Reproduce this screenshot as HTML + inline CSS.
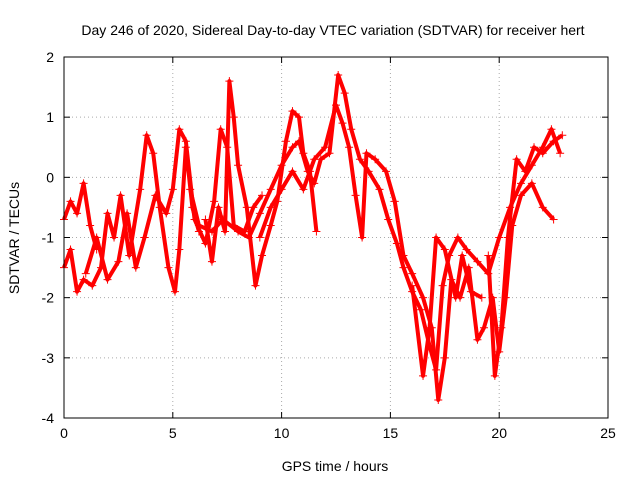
<!DOCTYPE html>
<html><head><meta charset="utf-8"><style>
body{margin:0;background:#fff}
svg text{font-family:"Liberation Sans",sans-serif;font-size:14px;fill:#000}
</style></head><body>
<svg id="chart" width="640" height="480">
<text x="333" y="35" text-anchor="middle">Day 246 of 2020, Sidereal Day-to-day VTEC variation (SDTVAR) for receiver hert</text>
<text transform="translate(19,238) rotate(-90)" text-anchor="middle">SDTVAR / TECUs</text>
<text x="335" y="471" text-anchor="middle">GPS time / hours</text>
<g id="grid"></g><g id="axes"></g><g id="marks"></g>
<rect x="64" y="57" width="544" height="361" fill="none" stroke="#000"/>
</svg>
<script>
const xTicks=[0,5,10,15,20,25];
const yTicks=[-4,-3,-2,-1,0,1,2];
const s1=[[0,-0.7],[0.3,-0.4],[0.6,-0.6],[0.9,-0.1],[1.2,-0.8],[1.5,-1.2]];
const s2=[[0,-1.5],[0.3,-1.2],[0.6,-1.9],[0.9,-1.7],[1.3,-1.8],[1.7,-1.5],[2.0,-0.6],[2.3,-1.0],[2.6,-0.3],[3.0,-1.3],[3.5,-0.2],[3.8,0.7],[4.1,0.4],[4.4,-0.5],[4.8,-1.5],[5.1,-1.9],[5.3,-1.2],[5.6,0.5],[5.9,-0.5],[6.2,-0.9]];
const s3=[[1.0,-1.6],[1.5,-1.0],[2.0,-1.7],[2.5,-1.4],[2.9,-0.6],[3.3,-1.5],[3.7,-1.0],[4.2,-0.3],[4.7,-0.6],[5.0,-0.2],[5.3,0.8],[5.6,0.6],[6.0,-0.7],[6.5,-1.1],[6.9,-0.4],[7.2,0.8],[7.5,0.5],[7.8,-0.8],[8.3,-0.9],[8.7,-0.5],[9.1,-0.3]];
const s4=[[6.5,-0.7],[6.8,-1.4],[7.1,-0.5],[7.4,-0.9],[7.6,1.6],[7.8,1.0],[8.0,0.2],[8.4,-0.5],[8.8,-1.8],[9.1,-1.3],[9.5,-0.8],[9.8,-0.4],[10.2,0.6],[10.5,1.1],[10.8,1.0],[11.0,0.4],[11.3,0.1],[11.6,-0.9]];
const s5=[[5.8,-0.2],[6.2,-0.8],[6.8,-0.9],[7.3,-0.7],[8.0,-0.9],[8.5,-1.0],[9.0,-0.6],[9.5,-0.2],[10.0,0.2],[10.5,0.5],[10.8,0.6],[11.2,0.1],[11.5,-0.1],[11.8,0.3],[12.2,0.4],[12.6,1.7],[12.9,1.4],[13.2,0.8],[13.6,0.3],[14.0,0.1],[14.5,-0.2],[14.9,-0.7],[15.3,-1.1],[15.6,-1.5],[16.0,-1.9],[16.4,-2.2],[16.8,-2.8],[17.1,-3.2],[17.4,-1.8],[17.7,-1.3],[18.1,-1.0],[18.5,-1.2],[19.0,-1.4],[19.5,-1.6],[20.0,-1.0],[20.5,-0.5],[21.0,-0.1],[21.5,0.2],[22.0,0.5],[22.4,0.8],[22.8,0.4]];
const s6=[[9.0,-1.0],[9.5,-0.5],[10.0,-0.2],[10.5,0.1],[11.0,-0.2],[11.5,0.3],[12.0,0.5],[12.5,1.2],[12.8,0.9],[13.1,0.5],[13.4,-0.3],[13.7,-1.0],[13.9,0.4],[14.3,0.3],[14.8,0.1],[15.2,-0.4],[15.6,-1.3],[16.0,-1.6],[16.5,-2.0],[16.9,-2.5],[17.2,-3.7],[17.5,-3.0],[17.8,-1.7],[18.2,-2.0],[18.6,-1.5],[19.0,-2.7],[19.3,-2.5],[19.7,-2.0],[20.0,-2.9],[20.3,-2.0],[20.6,-0.8],[21.0,-0.3],[21.5,-0.1],[22.0,-0.5],[22.5,-0.7]];
const s7=[[19.5,-1.3],[19.8,-3.3],[20.1,-2.5],[20.4,-1.0],[20.8,0.3],[21.2,0.1],[21.6,0.5],[22.0,0.4],[22.5,0.6],[22.9,0.7]];
const s8=[[16.0,-1.8],[16.5,-3.3],[16.8,-2.5],[17.1,-1.0],[17.5,-1.2],[18.0,-2.0],[18.3,-1.3],[18.7,-1.9],[19.2,-2.0]];
const series=[s1,s2,s3,s4,s5,s6,s7,s8];
const X0=64,X1=608,Y0=418,Y1=57;
const xs=v=>X0+(v-0)/(25-0)*(X1-X0);
const ys=v=>Y0-(v+4)/(2+4)*(Y0-Y1);
const NS="http://www.w3.org/2000/svg";
const grid=document.getElementById('grid'),axes=document.getElementById('axes'),marks=document.getElementById('marks');
function mk(tag,attrs,parent){const e=document.createElementNS(NS,tag);for(const k in attrs)e.setAttribute(k,attrs[k]);parent.appendChild(e);return e;}
xTicks.forEach(t=>{const x=xs(t);
 if(t>0&&t<25){const g=mk('line',{x1:x,x2:x,y1:Y1,y2:Y0,stroke:'#aaa','stroke-dasharray':'1,3'},grid);
 
 }
 mk('line',{x1:x,x2:x,y1:Y0,y2:Y0-6,stroke:'#000'},axes);mk('line',{x1:x,x2:x,y1:Y1,y2:Y1+6,stroke:'#000'},axes);
 const l=mk('text',{x:x,y:Y0+20,'text-anchor':'middle'},axes);l.textContent=t;
 
 });
yTicks.forEach(t=>{const y=ys(t);
 if(t>-4&&t<2){const g=mk('line',{x1:X0,x2:X1,y1:y,y2:y,stroke:'#aaa','stroke-dasharray':'1,3'},grid);
 
 }
 mk('line',{x1:X0,x2:X0+6,y1:y,y2:y,stroke:'#000'},axes);mk('line',{x1:X1,x2:X1-6,y1:y,y2:y,stroke:'#000'},axes);
 const l=mk('text',{x:X0-10,y:y+5,'text-anchor':'end'},axes);l.textContent=t;
 
 });
series.forEach((s,i)=>{
 const g=mk('g',{},marks);
 
 
 mk('polyline',{points:s.map(p=>xs(p[0])+','+ys(p[1])).join(' '),fill:'none',stroke:'#f00','stroke-width':4,'stroke-linejoin':'round'},g);
 s.forEach(p=>{const x=xs(p[0]),y=ys(p[1]);
  mk('path',{d:`M${x-4},${y}H${x+4}M${x},${y-4}V${y+4}`,stroke:'#f00','stroke-width':1},g);});
});
</script>
</body></html>
